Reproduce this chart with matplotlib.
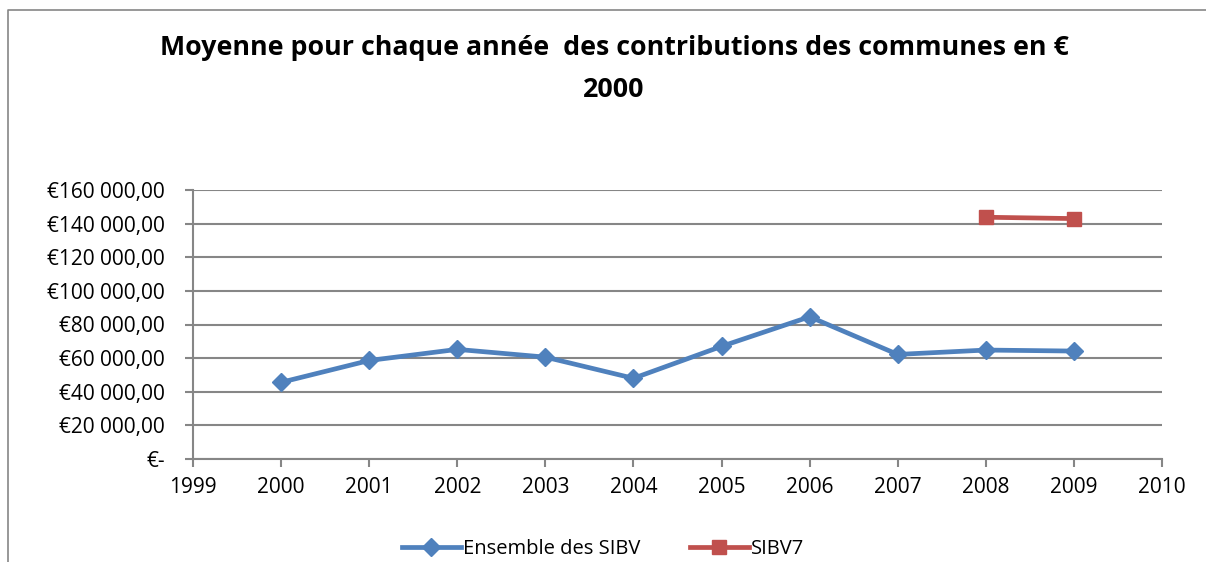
import matplotlib
matplotlib.use("Agg")
import matplotlib.pyplot as plt
from matplotlib.lines import Line2D
from matplotlib.ticker import FuncFormatter, MultipleLocator

# data
years = [2000, 2001, 2002, 2003, 2004, 2005, 2006, 2007, 2008, 2009]
ensemble = [45600, 58600, 65200, 60600, 48000, 67000, 84600, 62200, 64800, 64200]
sibv7_years = [2008, 2009]
sibv7 = [143800, 143000]

title = "Moyenne pour chaque année  des contributions des communes en €\n2000"
labels = ["Ensemble des SIBV", "SIBV7"]

BLUE = "#4F81BD"
RED = "#C0504D"
GRID = "#868686"

plt.rcParams["font.family"] = ["Open Sans", "DejaVu Sans"]


def euro(v, pos):
    if v == 0:
        return "€-"
    s = f"{int(round(v)):,}".replace(",", " ")
    return f"€{s},00"


fig = plt.figure(figsize=(12.06, 5.62), dpi=100)
ax = fig.add_axes([193 / 1206, 1 - 459 / 562, (1162 - 193) / 1206, (459 - 190) / 562])

ax.plot(years, ensemble, color=BLUE, lw=3.4, marker="D", markersize=9,
        label=labels[0], solid_joinstyle="round")
ax.plot(sibv7_years, sibv7, color=RED, lw=3.4, marker="s", markersize=10.5,
        label=labels[1])

ax.set_xlim(1999, 2010)
ax.set_ylim(0, 160000)
ax.xaxis.set_major_locator(MultipleLocator(1))
ax.yaxis.set_major_locator(MultipleLocator(20000))
ax.yaxis.set_major_formatter(FuncFormatter(euro))

ax.grid(axis="y", color=GRID, lw=1.5)
ax.set_axisbelow(True)
for side in ["top", "right"]:
    ax.spines[side].set_visible(False)
for side in ["left", "bottom"]:
    ax.spines[side].set_color(GRID)
    ax.spines[side].set_linewidth(1.5)
ax.tick_params(axis="both", colors=GRID, labelcolor="black", labelsize=15,
               length=6, width=1.5)
ax.tick_params(axis="x", pad=7)
ax.tick_params(axis="y", pad=14)

fig.text(614 / 1206, 1 - 69 / 562, title, ha="center", va="center",
         fontsize=19.3, fontweight="bold", linespacing=1.8)

fig.legend(loc="center", bbox_to_anchor=(0.5, 1 - 549 / 562), ncol=2,
           frameon=False, fontsize=14.5, handlelength=2.9, handletextpad=0.1,
           columnspacing=2.5)

# chart frame (cropped at right and bottom in the original)
fig.add_artist(Line2D([8 / 1206, 8 / 1206, 1], [0, 1 - 10 / 562, 1 - 10 / 562],
                      transform=fig.transFigure, color=GRID, lw=1.2))

fig.savefig("out.png", dpi=100)
